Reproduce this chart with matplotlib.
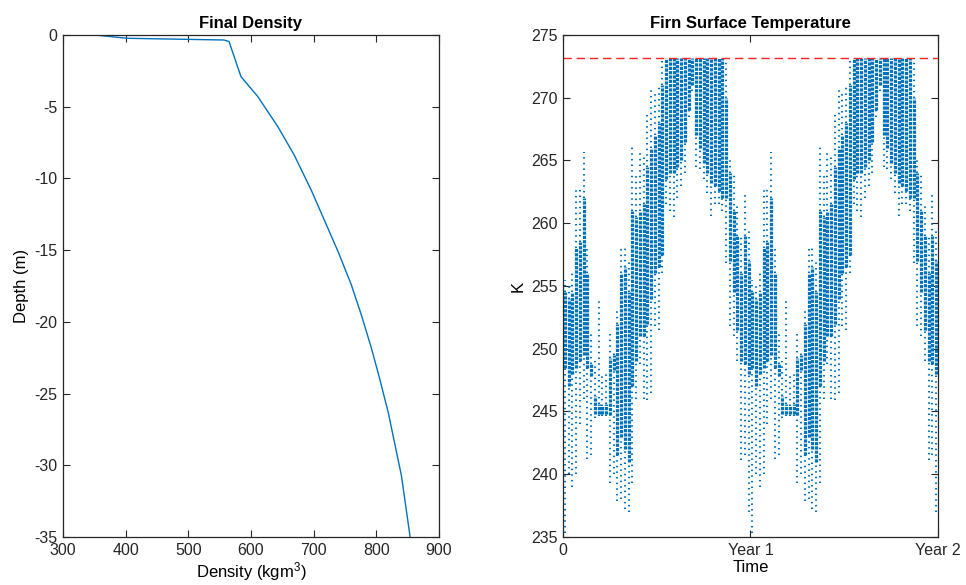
import numpy as np
import matplotlib
matplotlib.use("Agg")
import matplotlib.pyplot as plt

plt.rcParams['font.family'] = ['Liberation Sans', 'DejaVu Sans']
plt.rcParams['mathtext.fontset'] = 'custom'
plt.rcParams['mathtext.rm'] = 'Liberation Sans'
plt.rcParams['mathtext.it'] = 'Liberation Sans:italic'
plt.rcParams['axes.unicode_minus'] = False

# --- final density profile
density = [351, 402, 557, 565, 584, 611, 627, 643, 669, 696, 717, 739, 760, 776, 792,
           805, 819, 829, 840, 854]
depth = [0, -0.23, -0.35, -0.46, -2.9, -4.3, -5.35, -6.4, -8.37, -10.8, -12.9, -15.1,
         -17.4, -19.5, -21.8, -23.9, -26.3, -28.4, -30.7, -35.0]

# --- surface temperature, one year in 50 bins (0.02 yr each); the same cycle repeats in year 2
# sparse low edge, dense band low, dense band high, sparse high edge (K)
temp_sparse_lo = [235.3, 240.0, 239.0, 240.0, 244.0, 246.0, 241.2, 241.5, 244.5, 244.6,
                  244.6, 244.6, 239.3, 240.0, 237.9, 238.0, 237.2, 237.0, 239.3, 246.0,
                  248.8, 246.0, 245.9, 246.5, 251.8, 251.5, 256.0, 261.5, 261.0, 260.5,
                  262.0, 263.0, 264.0, 268.5, 270.5, 264.5, 264.3, 263.5, 262.4, 260.6,
                  261.5, 261.5, 261.0, 256.8, 251.8, 251.0, 249.0, 241.1, 241.5, 237.0]
temp_dense_lo = [248.5, 247.0, 248.0, 248.5, 249.0, 249.5, 248.5, 247.8, 244.8, 244.8,
                 244.8, 244.8, 244.7, 248.3, 241.5, 243.0, 242.0, 241.0, 247.0, 249.0,
                 251.0, 251.0, 252.0, 254.0, 256.0, 256.5, 257.5, 263.5, 264.0, 264.0,
                 264.5, 265.0, 266.5, 269.0, 271.0, 267.0, 266.0, 264.8, 264.0, 263.2,
                 263.0, 262.6, 262.0, 262.0, 257.0, 254.5, 251.5, 249.0, 248.8, 248.0]
temp_dense_hi = [254.5, 254.0, 254.5, 258.0, 258.5, 262.0, 256.0, 248.8, 246.2, 245.6,
                 245.4, 245.6, 249.3, 249.5, 252.0, 256.0, 256.5, 254.5, 261.0, 260.5,
                 261.0, 261.5, 264.5, 266.0, 267.0, 268.0, 271.0, 273.15, 273.15, 273.15,
                 273.15, 273.15, 273.15, 273.15, 273.15, 273.15, 273.15, 273.15, 273.15, 273.15,
                 273.15, 273.15, 273.15, 270.0, 264.0, 261.0, 259.0, 256.0, 259.0, 257.0]
temp_sparse_hi = [255.5, 255.0, 256.0, 263.0, 263.0, 265.7, 258.0, 251.2, 249.0, 254.0,
                  248.0, 248.2, 251.5, 249.8, 253.0, 258.0, 258.0, 257.0, 266.2, 264.0,
                  265.7, 265.5, 268.6, 270.6, 270.6, 271.0, 273.15, 273.15, 273.15, 273.15,
                  273.15, 273.15, 273.15, 273.15, 273.15, 273.15, 273.15, 273.15, 273.15, 273.15,
                  273.15, 273.15, 273.15, 273.15, 265.3, 264.0, 261.5, 259.0, 262.6, 259.5]
years = [0, 1]
bin_width = 0.02
melt_point = 273.15

blue = '#0072BD'
axis_col = '#262626'

fig = plt.figure(figsize=(9.66, 5.85), dpi=100)
ax1 = fig.add_axes([0.0652, 0.0821, 0.3892, 0.8581])
ax2 = fig.add_axes([0.5828, 0.0821, 0.3882, 0.8581])

# left: final density
ax1.plot(density, depth, color=blue, lw=1.0)
ax1.set_xlim(300, 900)
ax1.set_ylim(-35, 0)
ax1.set_xticks(range(300, 901, 100))
ax1.set_yticks(range(-35, 1, 5))
ax1.set_title('Final Density', fontsize=12, fontweight='bold', pad=5)
ax1.set_xlabel('Density (kgm$^3$)', fontsize=12, labelpad=2)
ax1.set_ylabel('Depth (m)', fontsize=12, labelpad=4)

# right: firn surface temperature
centers = (np.arange(len(temp_dense_lo)) + 0.5) * bin_width
for yr in years:
    x = yr + centers
    ax2.vlines(x, temp_sparse_lo, temp_dense_lo, colors=blue, lw=1.5,
               linestyles=(0, (0.7, 2.0)))
    ax2.vlines(x, temp_dense_hi, temp_sparse_hi, colors=blue, lw=1.5,
               linestyles=(0, (0.7, 2.0)))
    ax2.vlines(x, temp_dense_lo, temp_dense_hi, colors=blue, lw=2.3,
               linestyles=(0, (1.0, 0.35)))
ax2.axhline(melt_point, color='#FF2020', lw=1.0, linestyle=(0, (6, 3.5)))
ax2.set_xlim(0, 2)
ax2.set_ylim(235, 275)
ax2.set_xticks([0, 1, 2])
ax2.set_xticklabels(['0', 'Year 1', 'Year 2'])
ax2.set_yticks(range(235, 276, 5))
ax2.set_title('Firn Surface Temperature', fontsize=12, fontweight='bold', pad=5)
ax2.set_xlabel('Time', fontsize=12, labelpad=2)
ax2.set_ylabel('K', fontsize=12, labelpad=4)

for ax in (ax1, ax2):
    ax.tick_params(direction='in', top=True, right=True, length=5, width=0.8,
                   colors=axis_col, labelsize=11.5, pad=4)
    for s in ax.spines.values():
        s.set_color(axis_col)
        s.set_linewidth(0.9)

fig.savefig('out.png', dpi=100)
